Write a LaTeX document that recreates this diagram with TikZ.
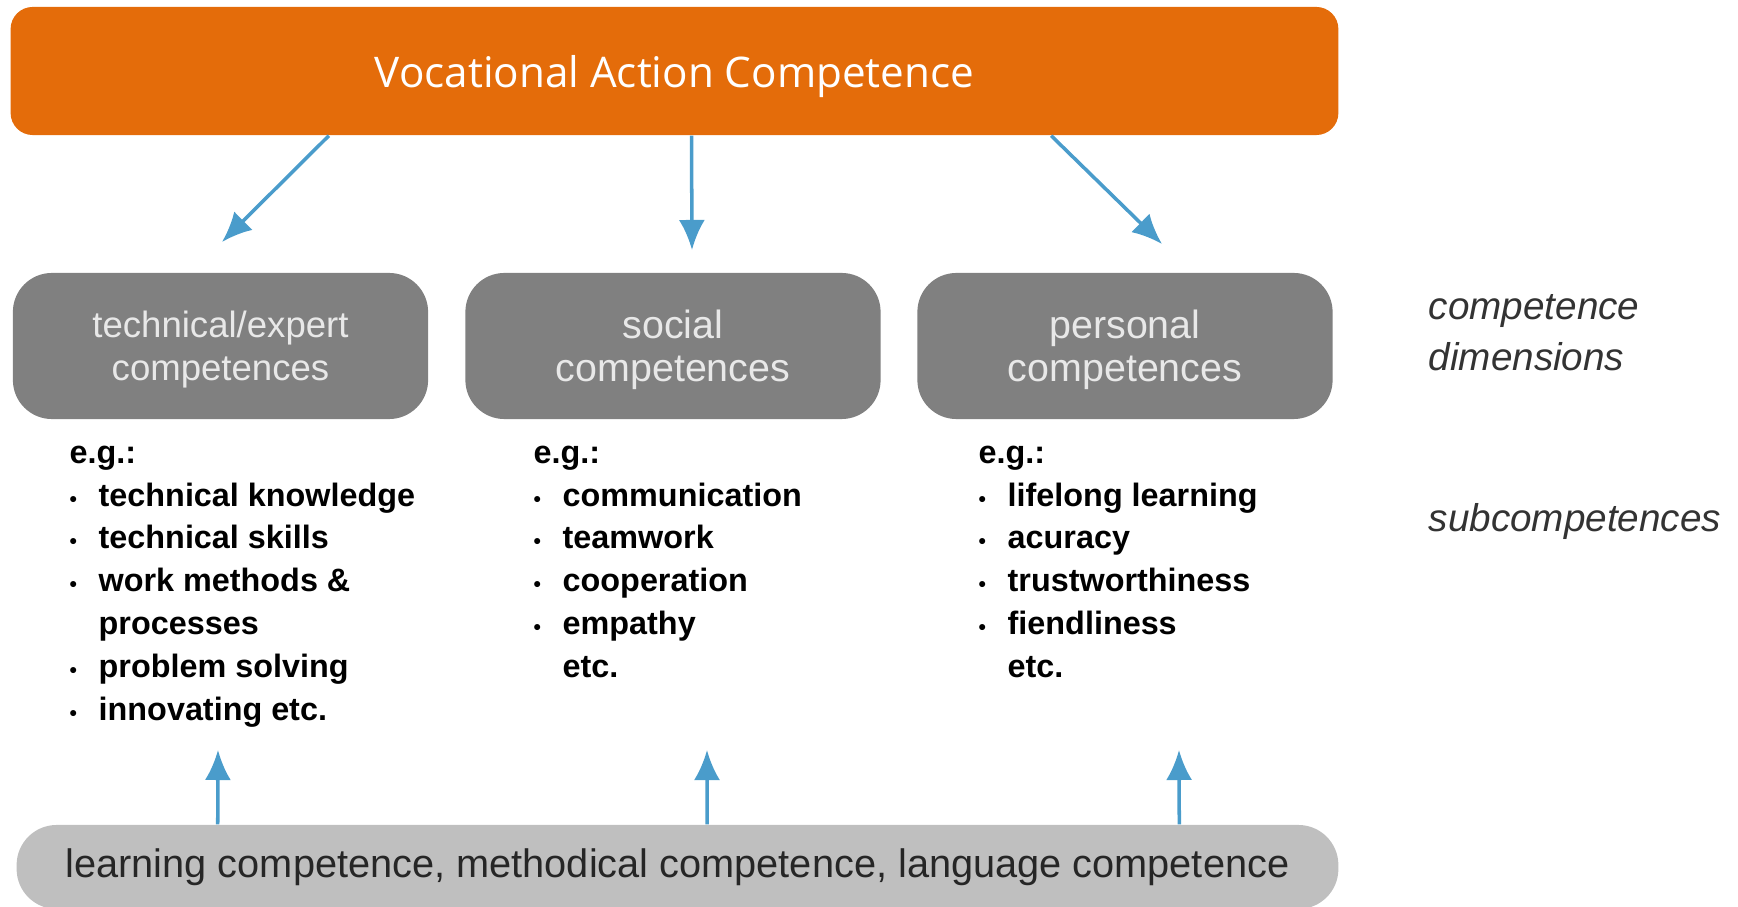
\documentclass[tikz,border=0pt]{standalone}
\usepackage{fontspec}
\setmainfont{Liberation Sans}
\newfontfamily\titlefont{Open Sans}
\usepackage{tikz}
\usetikzlibrary{arrows.meta, positioning}
\definecolor{vacorange}{RGB}{228, 108, 10}
\definecolor{arrowblue}{RGB}{74, 156, 203}
\definecolor{dimgrey}{RGB}{128, 128, 128}
\definecolor{dimtext}{RGB}{232, 232, 232}
\definecolor{basegrey}{RGB}{191, 191, 191}
\tikzset{
  dimbox/.style={fill=dimgrey, rounded corners=0.39cm, minimum width=4.15cm, minimum height=1.46cm, align=center, text=dimtext, inner sep=0pt, text depth=0pt},
  flow/.style={-{Latex[length=0.3cm, width=0.26cm]}, arrowblue, line width=1pt},
  sublist/.style={anchor=north west, align=left, inner sep=0pt, font=\fontsize{9.2}{12.2}\selectfont\bfseries},
  sidelabel/.style={anchor=west, align=left, inner sep=0pt, text=black!80, font=\fontsize{11}{14.5}\selectfont\itshape}
}
\newcommand{\bul}{\makebox[0.29cm][l]{\fontsize{6}{6}\selectfont\textbullet}}
\newcommand{\ind}{\hspace*{0.29cm}}

\begin{document}
\begin{tikzpicture}[x=0.01cm, y=-0.01cm]
    \useasboundingbox (0,0) rectangle (1738,907);
    % top box
    \node[fill=vacorange, rounded corners=0.22cm, minimum width=13.27cm, minimum height=1.28cm, text depth=0pt, text=white, font=\titlefont\fontsize{12}{14}\selectfont] (vac) at (674.5,71) {Vocational Action Competence};
    % competence dimensions
    \node[dimbox, font=\fontsize{10.4}{12.2}\selectfont] (tech) at (220.5,346) {technical/expert\\competences};
    \node[dimbox, font=\fontsize{11.2}{12.2}\selectfont] (soc) at (673,346) {social\\competences};
    \node[dimbox, font=\fontsize{11.2}{12.2}\selectfont] (pers) at (1125,346) {personal\\competences};
    % subcompetences
    \node[sublist] (techlist) at (69,445) {e.g.:\\ \bul technical knowledge\\ \bul technical skills\\ \bul work methods \&\\ \ind processes\\ \bul problem solving\\ \bul innovating etc.};
    \node[sublist] (soclist) at (533,445) {e.g.:\\ \bul communication\\ \bul teamwork\\ \bul cooperation\\ \bul empathy\\ \ind etc.};
    \node[sublist] (perslist) at (978,445) {e.g.:\\ \bul lifelong learning\\ \bul acuracy\\ \bul trustworthiness\\ \bul fiendliness\\ \ind etc.};
    % side labels
    \node[sidelabel] (dimlbl) at (1428,333) {competence\\dimensions};
    \node[sidelabel] (sublbl) at (1428,522) {subcompetences};
    % base
    \node[fill=basegrey, rounded corners=0.4cm, minimum width=13.21cm, minimum height=0.84cm, text=black!85, font=\fontsize{11.3}{13}\selectfont] (base) at (677.5,867) {learning competence, methodical competence, language competence};
    % arrows
    \coordinate (techtip) at (222,242);
    \coordinate (soctip) at (692,250);
    \coordinate (perstip) at (1162,244);
    \draw[flow] ([xshift=-3.455cm]vac.south) -- (techtip);
    \draw[flow] ([xshift=0.17cm]vac.south) -- (soctip);
    \draw[flow] ([xshift=3.765cm]vac.south) -- (perstip);
    \coordinate (techup) at (218,750);
    \coordinate (socup) at (707,750);
    \coordinate (persup) at (1179,750);
    \draw[flow] ([xshift=-4.595cm]base.north) -- (techup);
    \draw[flow] ([xshift=0.295cm]base.north) -- (socup);
    \draw[flow] ([xshift=5.015cm]base.north) -- (persup);
\end{tikzpicture}
\end{document}
